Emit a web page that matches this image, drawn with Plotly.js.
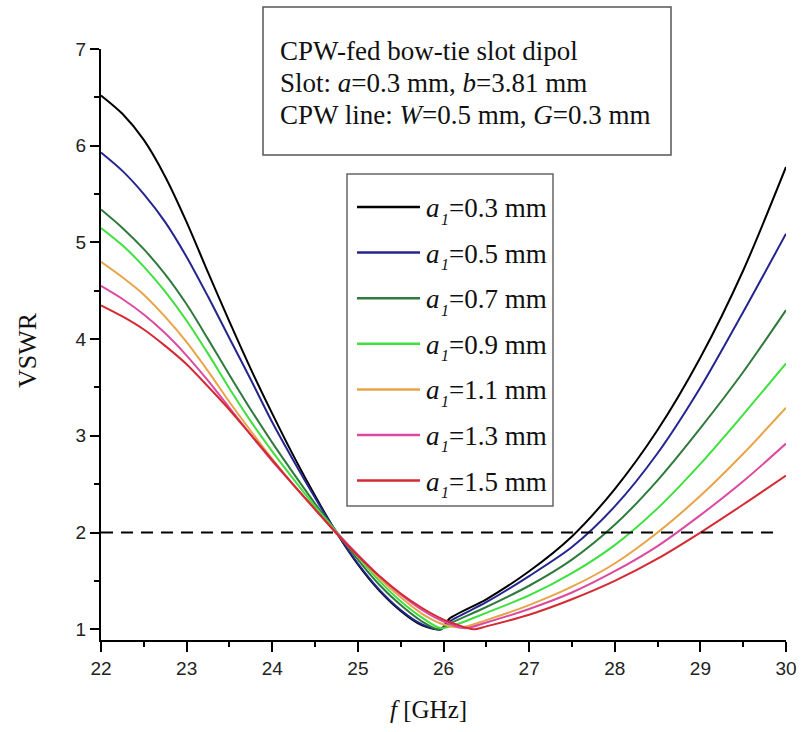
<!DOCTYPE html>
<html>
<head>
<meta charset="utf-8">
<script src="https://cdn.plot.ly/plotly-3.0.1.min.js"></script>
<style>html,body{margin:0;padding:0;background:#fff;}#chart{width:801px;height:732px;}</style>
</head>
<body>
<div id="chart"></div>
<script>
// ---------------- data ----------------
const seriesLabels = ["0.3", "0.5", "0.7", "0.9", "1.1", "1.3", "1.5"];
const seriesColors = ["#000000", "#25258f", "#2f7a3c", "#3ee03e", "#e8a448", "#dc4aa0", "#d42a33"];

const f_a03 = [22.0,22.25,22.5,22.75,23.0,23.25,23.5,23.75,24.0,24.25,24.5,24.75,25.0,25.25,25.5,25.75,25.97,26.07,26.5,27.0,27.5,28.0,28.5,29.0,29.5,30.0];
const v_a03 = [6.52,6.33,6.06,5.68,5.21,4.69,4.18,3.69,3.23,2.79,2.38,2.00,1.67,1.40,1.19,1.04,1.00,1.11,1.31,1.60,1.96,2.45,3.06,3.81,4.71,5.78];

const f_a05 = [22.0,22.25,22.5,22.75,23.0,23.25,23.5,23.75,24.0,24.25,24.5,24.75,25.0,25.25,25.5,25.75,25.97,26.07,26.5,27.0,27.5,28.0,28.5,29.0,29.5,30.0];
const v_a05 = [5.93,5.74,5.50,5.21,4.85,4.44,4.01,3.58,3.14,2.74,2.36,2.00,1.68,1.41,1.20,1.05,1.00,1.08,1.28,1.55,1.85,2.27,2.82,3.50,4.28,5.09];

const f_a07 = [22.0,22.25,22.5,22.75,23.0,23.25,23.5,23.75,24.0,24.25,24.5,24.75,25.0,25.25,25.5,25.75,25.94,26.1,26.5,27.0,27.5,28.0,28.5,29.0,29.5,30.0];
const v_a07 = [5.34,5.15,4.93,4.67,4.36,4.00,3.63,3.27,2.93,2.61,2.30,2.01,1.72,1.46,1.25,1.08,1.00,1.07,1.23,1.45,1.72,2.08,2.54,3.08,3.66,4.30];

const f_a09 = [22.0,22.25,22.5,22.75,23.0,23.25,23.5,23.75,24.0,24.25,24.5,24.75,25.0,25.25,25.5,25.75,25.97,26.15,26.5,27.0,27.5,28.0,28.5,29.0,29.5,30.0];
const v_a09 = [5.15,4.97,4.75,4.49,4.19,3.85,3.49,3.15,2.84,2.55,2.27,2.01,1.75,1.50,1.29,1.12,1.01,1.05,1.17,1.35,1.58,1.87,2.25,2.71,3.22,3.75];

const f_a11 = [22.0,22.25,22.5,22.75,23.0,23.25,23.5,23.75,24.0,24.25,24.5,24.75,25.0,25.25,25.5,25.75,26.0,26.22,26.5,27.0,27.5,28.0,28.5,29.0,29.5,30.0];
const v_a11 = [4.80,4.64,4.46,4.23,3.97,3.67,3.35,3.05,2.76,2.49,2.24,1.99,1.76,1.53,1.33,1.16,1.05,1.02,1.095,1.25,1.44,1.68,2.00,2.38,2.815,3.29];

const f_a13 = [22.0,22.25,22.5,22.75,23.0,23.25,23.5,23.75,24.0,24.25,24.5,24.75,25.0,25.25,25.5,25.75,26.0,26.25,26.5,27.0,27.5,28.0,28.5,29.0,29.5,30.0];
const v_a13 = [4.55,4.415,4.255,4.06,3.83,3.57,3.29,3.01,2.74,2.49,2.24,2.00,1.77,1.55,1.36,1.20,1.08,1.01,1.07,1.21,1.38,1.60,1.86,2.18,2.53,2.92];

const f_a15 = [22.0,22.25,22.5,22.75,23.0,23.25,23.5,23.75,24.0,24.25,24.5,24.75,25.0,25.25,25.5,25.75,26.0,26.15,26.35,26.5,27.0,27.5,28.0,28.5,29.0,29.5,30.0];
const v_a15 = [4.35,4.235,4.10,3.93,3.74,3.51,3.27,3.01,2.75,2.49,2.24,1.99,1.76,1.55,1.37,1.22,1.10,1.05,1.00,1.03,1.15,1.31,1.50,1.73,2.00,2.29,2.59];

const freqs = [f_a03, f_a05, f_a07, f_a09, f_a11, f_a13, f_a15];
const vswrs = [v_a03, v_a05, v_a07, v_a09, v_a11, v_a13, v_a15];

const refLineX = [22, 29.89];
const refLineY = [2, 2];

const xTickVals = [22, 23, 24, 25, 26, 27, 28, 29, 30];
const yTickVals = [1, 2, 3, 4, 5, 6, 7];

const infoLines = [
  "CPW-fed bow-tie slot dipol",
  "Slot: <i>a</i>=0.3 mm, <i>b</i>=3.81 mm",
  "CPW line: <i>W</i>=0.5 mm, <i>G</i>=0.3 mm"
];

// ---------------- layout geometry ----------------
const L = 101, T = 49, W = 685, H = 591;
const px = v => (v - L) / W;
const py = v => (T + H - v) / H;
const serif = "Liberation Serif, Times New Roman, serif";
const sans = "Liberation Sans, Arial, sans-serif";

const traces = freqs.map((f, i) => ({
  x: f, y: vswrs[i], type: "scatter", mode: "lines",
  line: {color: seriesColors[i], width: 2, shape: "spline", smoothing: 0.8},
  hoverinfo: "skip", showlegend: false
}));
traces.push({
  x: refLineX, y: refLineY, type: "scatter", mode: "lines",
  line: {color: "#000", width: 2, dash: "12px,8px"}, showlegend: false, hoverinfo: "skip"
});

const shapes = [];
const annotations = [];

// info box
shapes.push({type: "rect", xref: "paper", yref: "paper",
  x0: px(263), x1: px(671), y0: py(155), y1: py(7),
  line: {color: "#555", width: 1.5}, fillcolor: "rgba(0,0,0,0)", layer: "above"});
const infoY = [51, 83, 115];
infoLines.forEach((t, i) => annotations.push({
  text: t, xref: "paper", yref: "paper", x: px(278), y: py(infoY[i]),
  xanchor: "left", yanchor: "middle", showarrow: false,
  font: {family: serif, size: 27, color: "#111"}
}));

// legend box
shapes.push({type: "rect", xref: "paper", yref: "paper",
  x0: px(347), x1: px(553), y0: py(506), y1: py(174),
  line: {color: "#666", width: 1.5}, fillcolor: "#fff", layer: "above"});
seriesLabels.forEach((lab, i) => {
  const yc = 207 + i * 45.6;
  shapes.push({type: "line", xref: "paper", yref: "paper",
    x0: px(357), x1: px(420), y0: py(yc), y1: py(yc),
    line: {color: seriesColors[i], width: 2.5}, layer: "above"});
  annotations.push({
    text: "<i>a</i>", xref: "paper", yref: "paper", x: px(424), y: py(yc + 1),
    xanchor: "left", yanchor: "middle", showarrow: false,
    font: {family: serif, size: 27, color: "#111"}
  });
  annotations.push({
    text: "<i>1</i>", xref: "paper", yref: "paper", x: px(439), y: py(yc + 12),
    xanchor: "left", yanchor: "middle", showarrow: false,
    font: {family: serif, size: 16, color: "#111"}
  });
  annotations.push({
    text: "=" + lab + " mm", xref: "paper", yref: "paper", x: px(447), y: py(yc + 1),
    xanchor: "left", yanchor: "middle", showarrow: false,
    font: {family: serif, size: 27, color: "#111"}
  });
});

// axis titles
annotations.push({text: "VSWR", xref: "paper", yref: "paper", x: px(28), y: py(350),
  xanchor: "center", yanchor: "middle", textangle: -90, showarrow: false,
  font: {family: serif, size: 26, color: "#111"}});
annotations.push({text: "<i>f</i> [GHz]", xref: "paper", yref: "paper", x: px(428), y: py(709),
  xanchor: "center", yanchor: "middle", showarrow: false,
  font: {family: serif, size: 25, color: "#111"}});

const layout = {
  width: 801, height: 732,
  margin: {l: L, r: 801 - L - W, t: T, b: 732 - T - H, pad: 0},
  paper_bgcolor: "#fff", plot_bgcolor: "#fff",
  showlegend: false,
  xaxis: {
    range: [22, 30], tickvals: xTickVals, ticktext: xTickVals.map(String),
    showgrid: false, zeroline: false, showline: true, linecolor: "#000", linewidth: 2,
    ticks: "outside", ticklen: 10, tickwidth: 2, tickcolor: "#000",
    minor: {dtick: 0.5, ticks: "outside", ticklen: 5, tickwidth: 2, tickcolor: "#000", showgrid: false},
    tickfont: {family: sans, size: 19, color: "#222"}, fixedrange: true
  },
  yaxis: {
    range: [0.889, 7.0], tickvals: yTickVals, ticktext: yTickVals.map(String),
    showgrid: false, zeroline: false, showline: true, linecolor: "#000", linewidth: 2,
    ticks: "outside", ticklen: 9, tickwidth: 2, tickcolor: "#000",
    minor: {dtick: 0.5, ticks: "outside", ticklen: 5, tickwidth: 2, tickcolor: "#000", showgrid: false},
    tickfont: {family: sans, size: 19, color: "#222"}, fixedrange: true
  },
  shapes: shapes,
  annotations: annotations
};

Plotly.newPlot("chart", traces, layout, {displayModeBar: false, staticPlot: true});
</script>
</body>
</html>
